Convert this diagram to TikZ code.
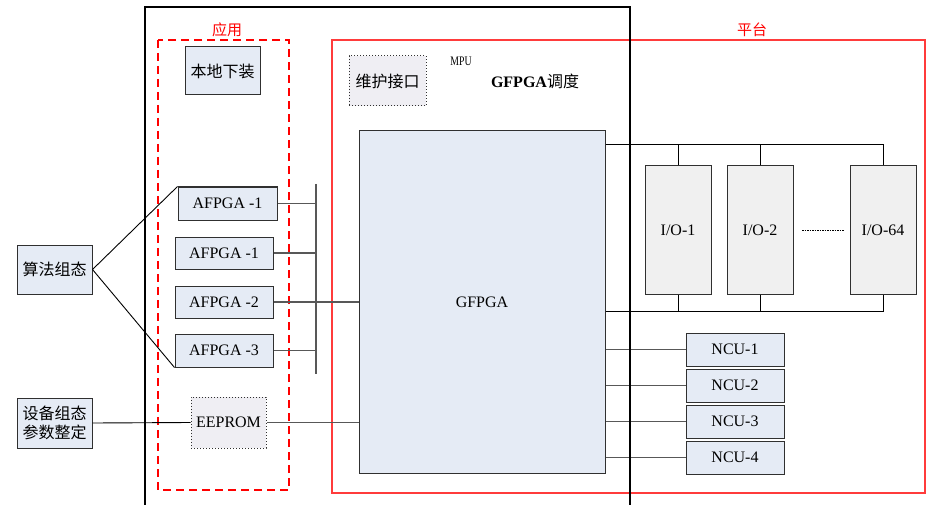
\documentclass[tikz,border=0pt]{standalone}
\usepackage{fontspec}
\setmainfont{Liberation Serif}
\newfontfamily\cjk{Noto Sans CJK SC}
\usetikzlibrary{calc}
\definecolor{boxblue}{HTML}{E5EBF5}
\definecolor{boxgray}{HTML}{F0F0F0}
\definecolor{boxlav}{HTML}{EFEEF3}
\definecolor{edge}{HTML}{303030}
\definecolor{busgray}{HTML}{585858}
\definecolor{platred}{HTML}{FF3B3B}
\tikzset{
  every node/.style={font=\fontsize{16}{19}\selectfont},
  bluebox/.style={draw=edge, fill=boxblue, line width=1pt, inner sep=0pt, align=center},
  graybox/.style={draw=edge, fill=boxgray, line width=1pt, inner sep=0pt, align=center},
  dotbox/.style={draw=edge, fill=boxlav, line width=1pt, dotted, inner sep=0pt, align=center},
  bus/.style={draw=busgray, line width=1.6pt},
  wire/.style={draw=black, line width=0.9pt},
  lbl/.style={text=red, font=\cjk\fontsize{15}{18}\selectfont}
}
\begin{document}
\begin{tikzpicture}[x=1pt,y=-1pt]
\useasboundingbox (0,0) rectangle (928,505);
% group frames
\draw[red, line width=1.2pt, dash pattern=on 8pt off 5pt] (158,40) rectangle (289,490);
\node[lbl] (applbl) at (227,30) {应用};
\draw[platred, line width=1.2pt] (332,40) rectangle (925,493);
\node[lbl] (platlbl) at (752,30) {平台};

% nodes
\node[bluebox, minimum width=75pt, minimum height=48pt] (local) at (222.5,71) {\cjk 本地下装};
\node[dotbox, minimum width=77pt, minimum height=50pt] (maint) at (387.5,81) {\cjk 维护接口};
\node[font=\fontsize{13}{15}\selectfont, xscale=0.75] (mpu) at (461,61) {MPU};
\node[font=\bfseries\fontsize{16}{19}\selectfont] (sched) at (535,81) {GFPGA{\cjk\mdseries 调度}};
\node[bluebox, minimum width=246pt, minimum height=342pt] (gfpga) at (482,302) {GFPGA};

\node[bluebox, minimum width=99pt, minimum height=33pt] (af1) at (227.5,203.5) {AFPGA -1};
\node[bluebox, minimum width=98pt, minimum height=32pt] (af2) at (224,253) {AFPGA -1};
\node[bluebox, minimum width=98pt, minimum height=32pt] (af3) at (224,302) {AFPGA -2};
\node[bluebox, minimum width=98pt, minimum height=33pt] (af4) at (224,350.5) {AFPGA -3};

\node[bluebox, minimum width=75pt, minimum height=49pt] (algo) at (54.5,269.5) {\cjk 算法组态};
\node[bluebox, minimum width=75pt, minimum height=50pt] (dev) at (54.5,423) {\cjk 设备组态\\\cjk 参数整定};
\node[dotbox, minimum width=75pt, minimum height=51pt] (eeprom) at (228.5,422.5) {EEPROM};

\node[graybox, minimum width=66pt, minimum height=128pt] (io1) at (678,230) {I/O-1};
\node[graybox, minimum width=66pt, minimum height=128pt] (io2) at (760,230) {I/O-2};
\node[graybox, minimum width=66pt, minimum height=128pt] (io64) at (883,230) {I/O-64};

\node[bluebox, minimum width=98pt, minimum height=33pt] (ncu1) at (735,349.5) {NCU-1};
\node[bluebox, minimum width=98pt, minimum height=33pt] (ncu2) at (735,385.5) {NCU-2};
\node[bluebox, minimum width=98pt, minimum height=33pt] (ncu3) at (735,421.5) {NCU-3};
\node[bluebox, minimum width=98pt, minimum height=33pt] (ncu4) at (735,457.5) {NCU-4};

% AFPGA bus
\coordinate (bustop) at (316,184);
\coordinate (busbot) at (316,374);
\draw[bus] (bustop) -- (busbot);
\draw[bus] (af1.east) -- (af1.east -| bustop);
\draw[bus] (af2.east) -- (af2.east -| bustop);
\draw[bus] (af3.east) -- (af3.east -| gfpga.west);
\draw[bus] (af4.east) -- (af4.east -| bustop);

% algorithm config fan
\draw[wire] (algo.east) -- (af1.north west);
\draw[wire] (algo.east) -- (af4.south west);

% device config
\draw[wire] (dev.east) -- (eeprom.west);
\draw[bus] (eeprom.east) -- (eeprom.east -| gfpga.west);

% I/O buses
\coordinate (iotopR) at (883,144);
\coordinate (iobotR) at (883,311);
\draw[wire] (gfpga.east |- iotopR) -- (iotopR) -- (io64.north);
\draw[wire] (io1.north) -- (io1.north |- iotopR);
\draw[wire] (io2.north) -- (io2.north |- iotopR);
\draw[wire] (gfpga.east |- iobotR) -- (iobotR) -- (io64.south);
\draw[wire] (io1.south) -- (io1.south |- iobotR);
\draw[wire] (io2.south) -- (io2.south |- iobotR);
\coordinate (dotsA) at (802,230);
\coordinate (dotsB) at (844,230);
\draw[black, line width=0.7pt, dash pattern=on 1.5pt off 1pt] (dotsA) -- (dotsB);

% NCU links
\draw[bus] (ncu1.west -| gfpga.east) -- (ncu1.west);
\draw[bus] (ncu2.west -| gfpga.east) -- (ncu2.west);
\draw[bus] (ncu3.west -| gfpga.east) -- (ncu3.west);
\draw[bus] (ncu4.west -| gfpga.east) -- (ncu4.west);

% MPU frame (on top)
\draw[black, line width=2.5pt] (145,510) -- (145,7) -- (630,7) -- (630,510);
\end{tikzpicture}
\end{document}
